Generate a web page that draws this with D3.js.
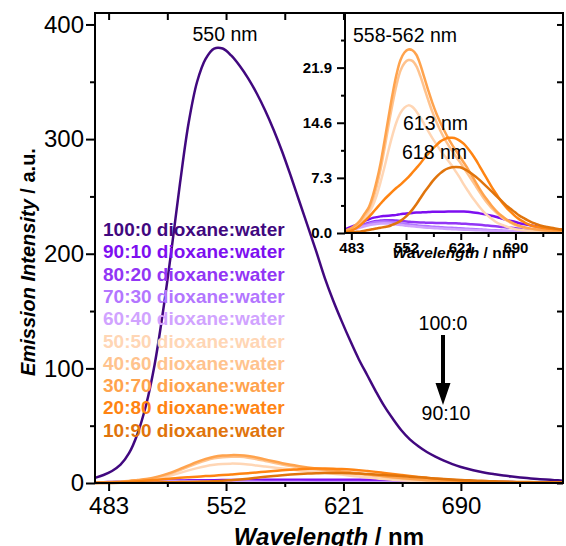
<!DOCTYPE html>
<html><head><meta charset="utf-8">
<script src="https://cdn.jsdelivr.net/npm/d3@7"></script>
<style>
html,body{margin:0;padding:0;background:#fff;}
svg{display:block;font-family:"Liberation Sans",Arial,sans-serif;}
</style></head>
<body><svg id="c" width="566" height="546"></svg>
<script>
const wavelengths = [
475,480,485,490,495,500,505,510,
515,520,525,530,535,540,545,550,
555,560,565,570,575,580,585,590,
595,600,605,610,615,620,625,630,
635,640,645,650,655,660,665,670,
675,680,685,690,695,700,705,710,
715,720,725,730,735,740,745,750];

const s100_0 = [
4.5,7,10.5,16,26,43,68,103,
150,204,262,314,350,370,379,379,
373,364,353,340,325,308,289,268,
246,224,202,179,159,141,124,108,
94,80,67,56,46,38,32,27,
23,19.5,16.5,14,12,10.3,8.8,7.6,
6.5,5.6,4.8,4.1,3.5,3,2.5,2];
const s90_10 = [
0.5,0.7,0.9,1.1,1.35,1.6,1.8,2.0,
2.1,2.2,2.25,2.3,2.35,2.4,2.5,2.55,
2.6,2.65,2.7,2.72,2.75,2.77,2.8,2.8,
2.82,2.83,2.84,2.85,2.85,2.85,2.84,2.8,
2.75,2.68,2.6,2.5,2.4,2.28,2.15,2.0,
1.85,1.7,1.58,1.45,1.3,1.2,1.1,1.0,
0.9,0.8,0.7,0.62,0.55,0.5,0.45,0.4];
const s80_20 = [
0.3,0.45,0.6,0.8,1.0,1.2,1.35,1.5,
1.6,1.65,1.7,1.7,1.7,1.65,1.6,1.55,
1.5,1.45,1.42,1.4,1.38,1.36,1.35,1.34,
1.33,1.32,1.3,1.3,1.28,1.25,1.22,1.2,
1.16,1.12,1.08,1.03,0.98,0.93,0.88,0.83,
0.78,0.73,0.68,0.63,0.58,0.54,0.5,0.46,
0.42,0.39,0.36,0.33,0.3,0.28,0.26,0.24];
const s70_30 = [
0.3,0.4,0.55,0.7,0.9,1.05,1.2,1.35,
1.45,1.5,1.52,1.5,1.45,1.38,1.3,1.22,
1.15,1.08,1.02,0.96,0.92,0.88,0.84,0.8,
0.77,0.74,0.71,0.68,0.65,0.62,0.59,0.56,
0.53,0.5,0.47,0.44,0.41,0.38,0.35,0.33,
0.31,0.29,0.27,0.25,0.23,0.21,0.2,0.19,
0.18,0.17,0.16,0.15,0.14,0.13,0.12,0.11];
const s60_40 = [
0.25,0.35,0.45,0.6,0.75,0.9,1.02,1.12,
1.2,1.25,1.27,1.25,1.2,1.14,1.07,1.0,
0.94,0.88,0.83,0.78,0.74,0.7,0.66,0.63,
0.6,0.57,0.54,0.51,0.48,0.46,0.44,0.42,
0.4,0.38,0.36,0.34,0.32,0.3,0.28,0.26,
0.25,0.24,0.23,0.22,0.21,0.2,0.19,0.18,
0.17,0.16,0.15,0.14,0.13,0.12,0.11,0.1];
const s50_50 = [
0.2,0.3,0.5,0.8,1.2,1.8,2.6,3.6,
5.0,6.8,8.8,11,13,14.7,15.9,16.6,
16.9,16.7,16.1,15.3,14.4,13.5,12.6,11.8,
11.0,10.3,9.6,8.9,8.1,7.3,6.4,5.6,
4.8,4.1,3.4,2.8,2.3,1.9,1.5,1.2,
1.0,0.8,0.65,0.5,0.42,0.36,0.31,0.27,
0.24,0.21,0.19,0.17,0.15,0.13,0.12,0.1];
const s40_60 = [
0.3,0.45,0.7,1.1,1.6,2.3,3.1,4.4,
6.2,8.5,11.3,14.3,17.1,19.6,21.5,22.5,
22.9,22.8,22.1,20.8,19.2,17.6,16.1,14.8,
13.6,12.6,11.7,10.9,10.1,9.4,8.6,7.8,
7.0,6.2,5.4,4.6,3.9,3.3,2.8,2.3,
1.9,1.6,1.3,1.05,0.88,0.74,0.63,0.54,
0.46,0.4,0.35,0.3,0.26,0.23,0.2,0.18];
const s30_70 = [
0.3,0.5,0.8,1.2,1.8,2.6,3.4,4.9,
6.9,9.3,12.3,15.4,18.4,21,22.9,23.9,
24.3,24.2,23.6,22.3,20.6,18.9,17.3,15.9,
14.7,13.6,12.6,11.7,10.9,10.1,9.3,8.5,
7.6,6.7,5.8,5.0,4.3,3.6,3.0,2.5,
2.1,1.7,1.4,1.15,0.95,0.8,0.68,0.58,
0.5,0.43,0.37,0.32,0.28,0.25,0.22,0.2];
const s20_80 = [
0.1,0.2,0.4,0.7,1.1,1.6,2.1,2.7,
3.3,3.9,4.5,5.0,5.5,6.0,6.4,6.9,
7.4,8.0,8.6,9.2,9.9,10.5,11.1,11.6,
12.1,12.4,12.6,12.6,12.5,12.2,11.8,11.2,
10.5,9.7,8.8,7.9,7.0,6.1,5.3,4.5,
3.8,3.2,2.7,2.2,1.8,1.5,1.2,1.0,
0.85,0.75,0.67,0.6,0.55,0.5,0.47,0.45];
const s10_90 = [
0.05,0.08,0.1,0.15,0.2,0.3,0.4,0.5,
0.6,0.7,0.8,0.9,1.1,1.3,1.6,2.0,
2.5,3.1,3.8,4.6,5.4,6.1,6.8,7.4,
7.9,8.3,8.55,8.7,8.75,8.7,8.5,8.2,
7.85,7.45,7.0,6.5,6.0,5.5,5.0,4.5,
4.0,3.5,3.1,2.7,2.3,2.0,1.7,1.45,
1.25,1.05,0.9,0.8,0.7,0.6,0.5,0.45];

const seriesNames = ["100:0 dioxane:water","90:10 dioxane:water","80:20 dioxane:water","70:30 dioxane:water","60:40 dioxane:water","50:50 dioxane:water","40:60 dioxane:water","30:70 dioxane:water","20:80 dioxane:water","10:90 dioxane:water"];
const seriesColors = ["#41087f","#7d0ff0","#9236f5","#b376ff","#d1a3ff","#ffd6b5","#ffc38e","#ffa34d","#ff8412","#e0740c"];
const seriesValues = [s100_0,s90_10,s80_20,s70_30,s60_40,s50_50,s40_60,s30_70,s20_80,s10_90];

const xMajor = [483,552,621,690];
const xMinor = [517.5,586.5,655.5,724.5];
const yMajor = [0,100,200,300,400];
const yMinor = [50,150,250,350];
const insetYMajor = [0,7.3,14.6,21.9];
const insetYMinor = [3.65,10.95,18.25,25.55];

const svg = d3.select("#c");
const L=95,R=563,T=13,B=483;
const x = d3.scaleLinear().domain([475,750]).range([L,R]);
const y = d3.scaleLinear().domain([0,410]).range([B,T]);

const data = seriesValues.map((v,i)=>({name:seriesNames[i],color:seriesColors[i],pts:wavelengths.map((w,j)=>[w,v[j]])}));

const line = d3.line().x(d=>x(d[0])).y(d=>y(d[1])).curve(d3.curveCatmullRom.alpha(0.5));
svg.append("g").selectAll("path").data(data).join("path")
  .attr("d",d=>line(d.pts)).attr("fill","none").attr("stroke",d=>d.color).attr("stroke-width",2.5);

function styleAxis(g){g.select(".domain").remove();g.selectAll(".tick line").attr("stroke","#000").attr("stroke-width",2);}
const FONT="Liberation Sans, Arial, sans-serif";
svg.append("g").attr("transform",`translate(0,${B})`)
  .call(d3.axisBottom(x).tickValues(xMajor).tickSize(8).tickPadding(6).tickFormat(d3.format("d")))
  .call(styleAxis).call(g=>g.selectAll("text").attr("font-size",24).attr("fill","#000").attr("font-family",FONT));
svg.append("g").attr("transform",`translate(0,${B})`)
  .call(d3.axisBottom(x).tickValues(xMinor).tickSize(4).tickFormat("")).call(styleAxis);
svg.append("g").attr("transform",`translate(${L},0)`)
  .call(d3.axisLeft(y).tickValues(yMajor).tickSize(9).tickPadding(2).tickFormat(d3.format("d")))
  .call(styleAxis).call(g=>g.selectAll("text").attr("font-size",24).attr("fill","#000").attr("font-family",FONT));
svg.append("g").attr("transform",`translate(${L},0)`)
  .call(d3.axisLeft(y).tickValues(yMinor).tickSize(5).tickFormat("")).call(styleAxis);
svg.append("g").attr("transform",`translate(0,${T})`)
  .call(d3.axisBottom(x).tickValues(xMajor.concat(xMinor)).tickSize(7).tickFormat("")).call(styleAxis);
svg.append("g").attr("transform",`translate(${R},0)`)
  .call(d3.axisLeft(y).tickValues(yMajor.concat(yMinor)).tickSize(6).tickFormat("")).call(styleAxis);

svg.append("rect").attr("x",L).attr("y",T).attr("width",R-L).attr("height",B-T)
  .attr("fill","none").attr("stroke","#000").attr("stroke-width",2);

const xt = svg.append("text").attr("x",(L+R)/2).attr("y",545).attr("text-anchor","middle")
  .attr("font-size",24).attr("font-weight","bold");
xt.append("tspan").attr("font-style","italic").text("Wavelength");
xt.append("tspan").text(" / nm");
const yt = svg.append("text").attr("transform","translate(35,262) rotate(-90)").attr("text-anchor","middle")
  .attr("font-size",20).attr("font-weight","bold");
yt.append("tspan").attr("font-style","italic").text("Emission Intensity");
yt.append("tspan").text(" / a.u.");

svg.append("g").selectAll("text").data(data).join("text")
  .attr("x",103).attr("y",(d,i)=>236+i*22.3)
  .attr("font-size",19).attr("font-weight","bold").attr("fill",d=>d.color).text(d=>d.name);

svg.append("text").attr("x",225).attr("y",40.5).attr("text-anchor","middle").attr("font-size",19.5).text("550 nm");
svg.append("text").attr("x",443).attr("y",330).attr("text-anchor","middle").attr("font-size",19.5).text("100:0");
svg.append("text").attr("x",446).attr("y",420).attr("text-anchor","middle").attr("font-size",19.5).text("90:10");
svg.append("path").attr("d","M441,335 L445,335 L445,383 L450.5,383 L443,405 L435.5,383 L441,383 Z").attr("fill","#000");

// inset
const iL=345,iR=563,iT=14,iB=233;
const xi = d3.scaleLinear().domain([475,750]).range([iL,iR]);
const yi = d3.scaleLinear().domain([0,29]).range([iB,iT]);
svg.append("rect").attr("x",iL).attr("y",iT).attr("width",iR-iL).attr("height",iB-iT).attr("fill","#fff");
const lineI = d3.line().x(d=>xi(d[0])).y(d=>yi(d[1])).curve(d3.curveCatmullRom.alpha(0.5));
svg.append("g").selectAll("path").data(data.slice(1)).join("path")
  .attr("d",d=>lineI(d.pts)).attr("fill","none").attr("stroke",d=>d.color).attr("stroke-width",2.5);

svg.append("g").attr("transform",`translate(0,${iB})`)
  .call(d3.axisBottom(xi).tickValues(xMajor).tickSize(7).tickPadding(2).tickFormat(d3.format("d")))
  .call(styleAxis).call(g=>g.selectAll("text").attr("font-size",15).attr("font-weight","bold").attr("fill","#000").attr("font-family",FONT));
svg.append("g").attr("transform",`translate(0,${iB})`)
  .call(d3.axisBottom(xi).tickValues(xMinor).tickSize(4).tickFormat("")).call(styleAxis);
svg.append("g").attr("transform",`translate(${iL},0)`)
  .call(d3.axisLeft(yi).tickValues(insetYMajor).tickSize(8).tickPadding(5).tickFormat(d3.format(".1f")))
  .call(styleAxis).call(g=>g.selectAll("text").attr("font-size",15).attr("font-weight","bold").attr("fill","#000").attr("font-family",FONT));
svg.append("g").attr("transform",`translate(${iL},0)`)
  .call(d3.axisLeft(yi).tickValues(insetYMinor).tickSize(4).tickFormat("")).call(styleAxis);
svg.append("path").attr("d",`M${iL},${iT} L${iL},${iB} L${iR},${iB}`).attr("fill","none").attr("stroke","#000").attr("stroke-width",2);
svg.append("path").attr("d",`M${iL},${T} L${R},${T} L${R},${iB}`).attr("fill","none").attr("stroke","#000").attr("stroke-width",2);
svg.append("g").attr("transform",`translate(${R},0)`)
  .call(d3.axisLeft(y).tickValues([250,300,350,400]).tickSize(6).tickFormat("")).call(styleAxis);

const it = svg.append("text").attr("x",(iL+iR)/2).attr("y",258).attr("text-anchor","middle")
  .attr("font-size",15.5).attr("font-weight","bold");
it.append("tspan").attr("font-style","italic").text("Wavelength");
it.append("tspan").text(" / nm");

svg.append("text").attr("x",353).attr("y",41.5).attr("font-size",19.5).text("558-562 nm");
svg.append("text").attr("x",403).attr("y",130).attr("font-size",19.5).text("613 nm");
svg.append("text").attr("x",402).attr("y",159).attr("font-size",19.5).text("618 nm");
</script></body></html>
